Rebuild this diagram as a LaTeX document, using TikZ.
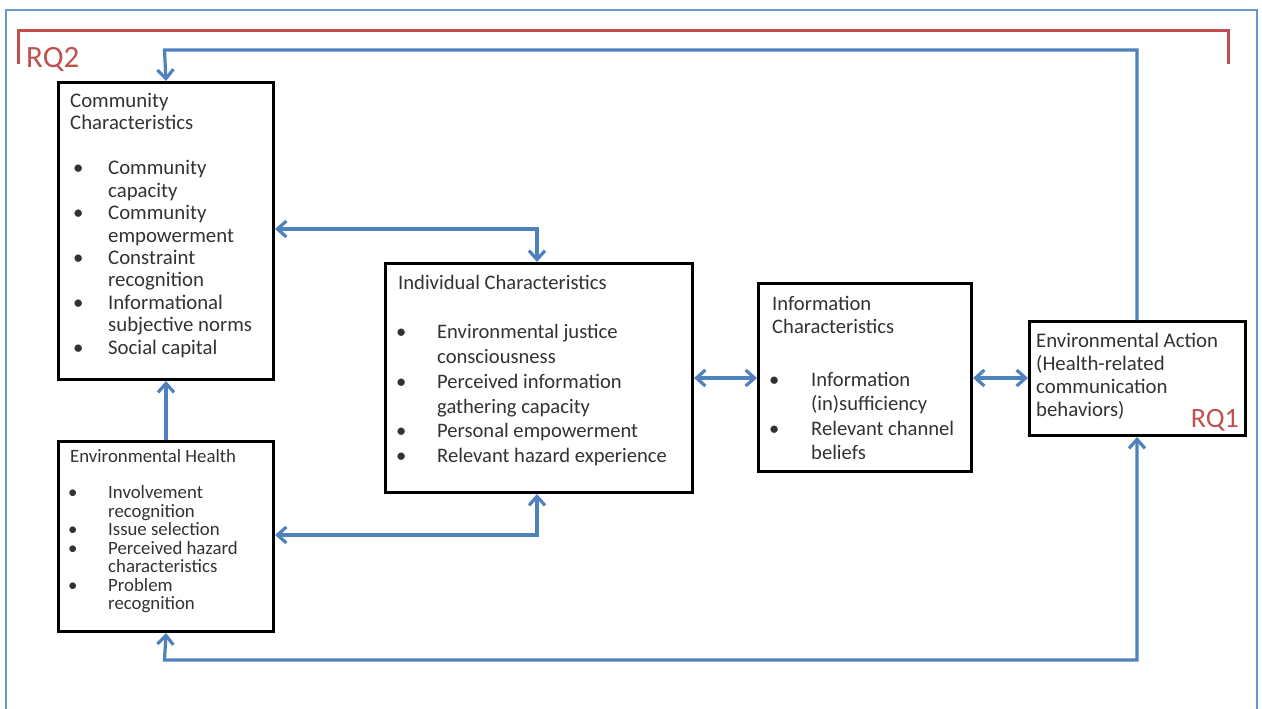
\documentclass[tikz,border=0pt]{standalone}
\usepackage{fontspec}
\setmainfont{Carlito}
\usetikzlibrary{arrows.meta}
\definecolor{cblue}{RGB}{79,129,189}
\definecolor{fblue}{RGB}{104,152,208}
\definecolor{rqred}{RGB}{192,80,77}
\definecolor{txtgray}{RGB}{50,50,50}
\newcommand{\bx}{\textbullet}
\newcommand{\bl}[2]{\makebox[#1][l]{\hspace*{#2}\bx}}
\newcommand{\ttl}[1]{\multicolumn{2}{@{}l@{}}{#1}}
\begin{document}
\begin{tikzpicture}[x=1pt,y=-1pt,
  box/.style={draw=black,line width=3pt,anchor=north west,inner sep=0pt},
  txtblk/.style={anchor=base west,inner sep=0pt,text=txtgray,align=left},
  conn/.style={draw=cblue,line width=3.2pt,
    >={Straight Barb[length=9pt,width=16pt]}},
  rq/.style={text=rqred,inner sep=0pt},
  bracket/.style={draw=rqred,line width=3pt},
  frame/.style={draw=fblue,line width=2pt}]
\useasboundingbox (0,0) rectangle (1262,709);
% outer frame
\draw[frame] (6,712) -- (6,10) -- (1257,10) -- (1257,712);
% red bracket
\draw[bracket] (18,64) -- (18,31) -- (1228,31) -- (1228,64);
\node[rq,anchor=base west,font=\fontsize{31}{31}\selectfont] (rq2) at (26,67) {RQ2};

% boxes
\node[box,minimum width=215pt,minimum height=297pt] (comm) at (57,81) {};
\node[box,minimum width=215pt,minimum height=190pt] (eh) at (57,440) {};
\node[box,minimum width=307pt,minimum height=229pt] (ind) at (384,262) {};
\node[box,minimum width=213pt,minimum height=188pt] (info) at (757,282) {};
\node[box,minimum width=216pt,minimum height=114pt] (act) at (1028,320) {};

% texts
\node[txtblk] (commtxt) at (70,107) {\fontsize{20.8}{22.5}\selectfont
\begin{tabular}[t]{@{}l@{}l@{}}
\ttl{Community}\\
\ttl{Characteristics}\\
\\
\bl{38pt}{3pt} & Community\\
 & capacity\\
\bl{38pt}{3pt} & Community\\
 & empowerment\\
\bl{38pt}{3pt} & Constraint\\
 & recognition\\
\bl{38pt}{3pt} & Informational\\
 & subjective norms\\
\bl{38pt}{3pt} & Social capital
\end{tabular}};

\node[txtblk] (ehtxt) at (70,462) {\fontsize{18.8}{18.3}\selectfont
\begin{tabular}[t]{@{}l@{}l@{}}
\ttl{Environmental Health}\\
\\
\bl{38pt}{-2pt} & Involvement\\
 & recognition\\
\bl{38pt}{-2pt} & Issue selection\\
\bl{38pt}{-2pt} & Perceived hazard\\
 & characteristics\\
\bl{38pt}{-2pt} & Problem\\
 & recognition
\end{tabular}};

\node[txtblk] (indtxt) at (398,289) {\fontsize{20.6}{24.8}\selectfont
\begin{tabular}[t]{@{}l@{}l@{}}
\ttl{Individual Characteristics}\\
\\
\bl{39pt}{-2pt} & Environmental justice\\
 & consciousness\\
\bl{39pt}{-2pt} & Perceived information\\
 & gathering capacity\\
\bl{39pt}{-2pt} & Personal empowerment\\
\bl{39pt}{-2pt} & Relevant hazard experience
\end{tabular}};

\node[txtblk] (infotxt) at (772,310) {\fontsize{20.6}{23.5}\selectfont
\begin{tabular}[t]{@{}l@{}l@{}}
\ttl{Information}\\
\ttl{Characteristics}\\[6pt]
\\
\bl{39pt}{-3pt} & Information\\
 & (in)sufficiency\\[2pt]
\bl{39pt}{-3pt} & Relevant channel\\
 & beliefs
\end{tabular}};

\node[txtblk] (acttxt) at (1036,347) {\fontsize{20.8}{23}\selectfont
\begin{tabular}[t]{@{}l@{}}
Environmental Action\\
(Health-related\\
communication\\
behaviors)
\end{tabular}};
\node[rq,anchor=base east,font=\fontsize{28}{28}\selectfont] (rq1) at (1239,427) {RQ1};

% connector corner points
\coordinate (tr) at (1137,50);
\coordinate (tl) at (164.5,50);
\coordinate (br) at (1137,660);
\coordinate (bll) at (164.5,660);
\coordinate (c1) at (537,229);
\coordinate (c2) at (537,535);
\coordinate (m1) at (724,378);
\coordinate (m2) at (999,378);

% connectors
\draw[conn,->] (act.north -| tr) -- (tr) -- (tl) -- (comm.north);
\draw[conn,<->] (eh.south) -- (bll) -- (br) -- (act.south -| br);
\draw[conn,->] (eh.north) -- (comm.south);
\draw[conn,<->] (comm.east |- c1) -- (c1) -- (ind.north -| c1);
\draw[conn,<->] (eh.east |- c2) -- (c2) -- (ind.south -| c2);
\draw[conn,<->] (ind.east |- m1) -- (info.west |- m1);
\draw[conn,<->] (info.east |- m2) -- (act.west |- m2);
\end{tikzpicture}
\end{document}
